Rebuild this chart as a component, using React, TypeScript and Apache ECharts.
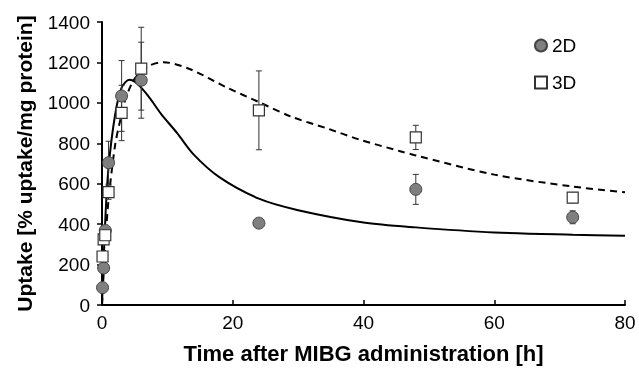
import React, { useEffect, useRef } from "react";
import * as echarts from "echarts";

const times = [0.083, 0.25, 0.5, 1, 3, 6, 24, 48, 72];
const uptake2D = [86, 183, 369, 704, 1034, 1112, 405, 572, 434];
const err2D = [0, 0, 20, 106, 175, 188, 15, 74, 32];
const uptake3D = [240, 325, 345, 558, 950, 1169, 963, 829, 531];
const err3D = [10, 10, 15, 35, 137, 205, 195, 60, 25];

const fitTime2D = [0, 0.5, 1, 2, 3, 4.2, 5, 6, 7.4, 9, 11.5, 14, 18, 24, 30, 40, 48, 60, 72, 80];
const fit2D = [0, 420, 680, 940, 1075, 1114, 1105, 1075, 1020, 947, 850, 745, 631, 526, 469, 408, 384, 359, 348, 343];

const fitTime3D = [0, 0.5, 1, 2, 2.8, 3.6, 5, 7, 9.4, 13.5, 19, 24, 29, 34.4, 39.5, 45.6, 48, 60, 72, 80];
const fit3D = [0, 300, 520, 790, 915, 1020, 1120, 1180, 1201, 1166, 1077, 1004, 931, 874, 817, 761, 740, 645, 586, 558];

const FONT = "'Liberation Sans', Arial, sans-serif";

function errRender(params: any, api: any) {
  const x = api.value(0);
  const lo = api.value(1);
  const hi = api.value(2);
  const pLo = api.coord([x, lo]);
  const pHi = api.coord([x, hi]);
  const hw = 3;
  const style = { stroke: "#333", lineWidth: 1 };
  return {
    type: "group",
    children: [
      { type: "line", shape: { x1: pLo[0], y1: pLo[1], x2: pHi[0], y2: pHi[1] }, style },
      { type: "line", shape: { x1: pLo[0] - hw, y1: pLo[1], x2: pLo[0] + hw, y2: pLo[1] }, style },
      { type: "line", shape: { x1: pHi[0] - hw, y1: pHi[1], x2: pHi[0] + hw, y2: pHi[1] }, style },
    ],
  };
}

export default function App() {
  const ref = useRef<HTMLDivElement>(null);
  useEffect(() => {
    if (!ref.current) return;
    const chart = echarts.init(ref.current, null, { renderer: "svg" });
    const err2 = times.map((t, i) => [t, uptake2D[i] - err2D[i], uptake2D[i] + err2D[i]]).filter((d, i) => err2D[i] > 0);
    const err3 = times.map((t, i) => [t, uptake3D[i] - err3D[i], uptake3D[i] + err3D[i]]).filter((d, i) => err3D[i] > 0);
    chart.setOption({
      animation: false,
      textStyle: { fontFamily: FONT },
      grid: { left: 102, right: 14, top: 22, bottom: 59 },
      legend: {
        orient: "vertical",
        left: 529,
        top: 31,
        itemGap: 18,
        itemWidth: 12,
        itemHeight: 12,
        textStyle: { fontSize: 19, color: "#000", fontFamily: FONT },
        data: ["2D", "3D"],
      },
      xAxis: {
        type: "value",
        min: 0,
        max: 80,
        interval: 20,
        name: "Time after MIBG administration [h]",
        nameLocation: "middle",
        nameGap: 37,
        nameTextStyle: { fontSize: 22, fontWeight: "bold", color: "#000", fontFamily: FONT },
        axisLine: { lineStyle: { color: "#000", width: 2 } },
        axisTick: { inside: true, length: 5, lineStyle: { color: "#000", width: 1.5 } },
        axisLabel: { fontSize: 19, color: "#000", margin: 8, fontFamily: FONT, formatter: (v: number) => String(v) },
        splitLine: { show: false },
      },
      yAxis: {
        type: "value",
        min: 0,
        max: 1400,
        interval: 200,
        name: "Uptake [% uptake/mg protein]",
        nameLocation: "middle",
        nameGap: 67,
        nameTextStyle: { fontSize: 21, fontWeight: "bold", color: "#000", fontFamily: FONT },
        axisLine: { show: true, lineStyle: { color: "#000", width: 2 } },
        axisTick: { show: true, length: 5, lineStyle: { color: "#000", width: 1.5 } },
        axisLabel: { fontSize: 19, color: "#000", margin: 12, fontFamily: FONT, formatter: (v: number) => String(v) },
        splitLine: { show: false },
      },
      series: [
        {
          name: "fit2D",
          type: "line",
          data: fitTime2D.map((t, i) => [t, fit2D[i]]),
          smooth: 0.3,
          showSymbol: false,
          lineStyle: { color: "#000", width: 2 },
          z: 2,
        },
        {
          name: "fit3D",
          type: "line",
          data: fitTime3D.map((t, i) => [t, fit3D[i]]),
          smooth: 0.3,
          showSymbol: false,
          lineStyle: { color: "#000", width: 2, type: [7, 5] },
          z: 2,
        },
        {
          name: "err2D",
          type: "custom",
          renderItem: errRender,
          data: err2,
          z: 3,
          encode: { x: 0, y: [1, 2] },
        },
        {
          name: "err3D",
          type: "custom",
          renderItem: errRender,
          data: err3,
          z: 3,
          encode: { x: 0, y: [1, 2] },
        },
        {
          name: "2D",
          type: "scatter",
          symbol: "circle",
          symbolSize: 12,
          data: times.map((t, i) => [t, uptake2D[i]]),
          itemStyle: { color: "#7f7f7f", borderColor: "#444", borderWidth: 1, opacity: 1 },
          z: 4,
        },
        {
          name: "3D",
          type: "scatter",
          symbol: "rect",
          symbolSize: 11,
          data: times.map((t, i) => [t, uptake3D[i]]),
          itemStyle: { color: "#fff", borderColor: "#333", borderWidth: 1.2, opacity: 1 },
          z: 5,
        },
      ],
    });
    return () => chart.dispose();
  }, []);
  return <div ref={ref} style={{ position: "fixed", left: 0, top: 0, width: 639, height: 369 }} />;
}
